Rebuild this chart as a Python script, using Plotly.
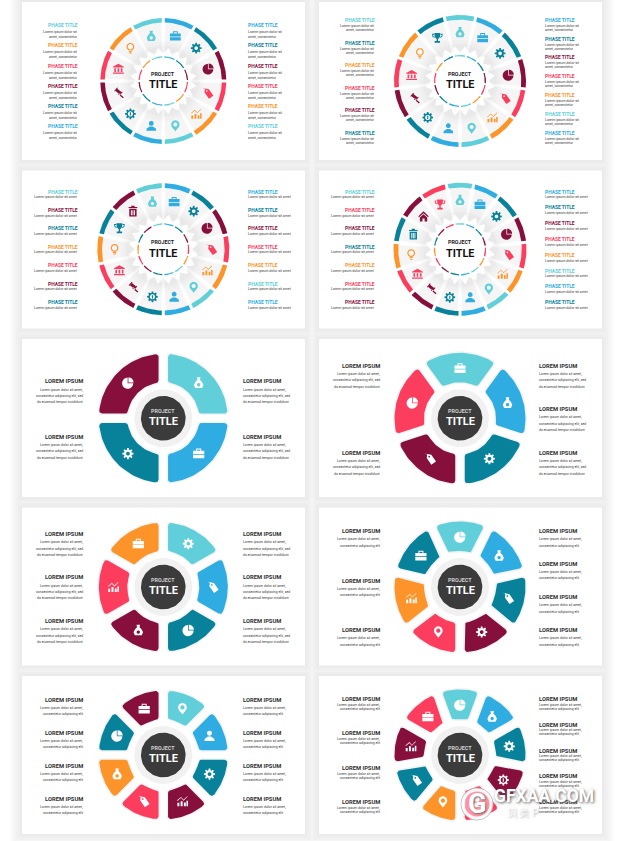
import math
import plotly.graph_objects as go

BLUE = '#2fade2'
TEAL = '#07829a'
MAROON = '#870f3c'
PINK = '#fd3d5e'
ORANGE = '#fd9429'
CYAN = '#60cfd9'

# segments run clockwise from the top of each wheel
colors_1 = [BLUE, TEAL, MAROON, PINK, ORANGE, CYAN, BLUE, TEAL, MAROON, PINK, ORANGE, CYAN]
colors_2 = [CYAN, BLUE, TEAL, MAROON, PINK, ORANGE, CYAN, BLUE, TEAL, MAROON, PINK, ORANGE, TEAL]
colors_3 = [BLUE, TEAL, MAROON, PINK, ORANGE, CYAN, BLUE, TEAL, MAROON, PINK, ORANGE, TEAL, MAROON, CYAN]
colors_4 = [CYAN, BLUE, TEAL, MAROON, PINK, ORANGE, CYAN, BLUE, TEAL, MAROON, PINK, ORANGE, TEAL, MAROON, PINK]
colors_5 = [CYAN, BLUE, TEAL, MAROON]
colors_6 = [CYAN, BLUE, TEAL, MAROON, PINK]
colors_7 = [CYAN, BLUE, TEAL, MAROON, PINK, ORANGE]
colors_8 = [CYAN, BLUE, TEAL, MAROON, PINK, ORANGE, TEAL]
colors_9 = [CYAN, BLUE, TEAL, MAROON, PINK, ORANGE, TEAL, MAROON]
colors_10 = [CYAN, BLUE, TEAL, MAROON, PINK, ORANGE, TEAL, MAROON, PINK]

icons_1 = ['case', 'gear', 'pie', 'tag', 'chart', 'pin', 'person', 'geardot', 'gavel', 'bank', 'bulb', 'bag']
icons_2 = ['bag', 'case', 'gear', 'pie', 'tag', 'chart', 'pin', 'person', 'geardot', 'gavel', 'bank', 'bulb', 'trophy']
icons_3 = ['case', 'gear', 'pie', 'tag', 'chart', 'pin', 'person', 'geardot', 'gavel', 'bank', 'bulb', 'trophy', 'trash', 'bag']
icons_4 = ['bag', 'case', 'gear', 'pie', 'tag', 'chart', 'pin', 'person', 'geardot', 'gavel', 'bank', 'bulb', 'trash', 'house', 'trophy']
icons_5 = ['bag', 'case', 'gear', 'pie']
icons_6 = ['case', 'bag', 'gear', 'tag', 'pie']
icons_7 = ['gear', 'tag', 'pie', 'bag', 'chart', 'case']
icons_8 = ['pie', 'bag', 'tag', 'gear', 'pin', 'chart', 'case']
icons_9 = ['pin', 'person', 'gear', 'chart', 'tag', 'bag', 'pie', 'case']
icons_10 = ['pie', 'bag', 'gear', 'geardot', 'person', 'pin', 'tag', 'chart', 'case']

phase_title = 'PHASE TITLE'
lorem_title = 'LOREM IPSUM'
body_phase_2 = ['Lorem ipsum dolor sit', 'amet, consectetur']
body_phase_1 = ['Lorem ipsum dolor sit amet']
body_lorem_3 = ['Lorem ipsum dolor sit amet,', 'consectetur adipiscing elit, sed', 'do eiusmod tempor incididunt']
body_lorem_2 = ['Lorem ipsum dolor sit amet,', 'consectetur adipiscing elit']

# cx, cy, radius, colors, icons, left text x, right text x, left rows, right rows, body, body line offsets
wheels_top = [
    (163.3, 81, 63, colors_1, icons_1, 78, 248,
     [25, 45, 65.5, 86, 106, 126], [25, 45, 65.5, 86, 106, 126], body_phase_2, [7, 12]),
    (460, 81, 66, colors_2, icons_2, 375, 545,
     [19.7, 42.7, 65.3, 87.7, 110.3, 133.3], [19.7, 38.7, 57.3, 76.3, 95.3, 114, 133.3], body_phase_2, [6, 10]),
    (163.3, 249.3, 66, colors_3, icons_3, 78, 248,
     [191.7, 210, 228.3, 246.7, 265, 283.7, 302.3], [191.7, 210, 228.3, 246.7, 265, 283.7, 302.3], body_phase_1, [5.5]),
    (460, 249.3, 66.5, colors_4, icons_4, 375, 545,
     [191.7, 210, 228.3, 246.7, 265, 283.7, 302.3], [191.7, 207.3, 223, 239, 255, 270.7, 286.3, 302.3], body_phase_1, [5.5]),
]
wheels_low = [
    (163.3, 418.3, 64.5, colors_5, icons_5, 83.3, 243,
     [381.3, 436.7], [381.3, 436.7], body_lorem_3, [8.3, 14.7, 21]),
    (460, 418.3, 65.5, colors_6, icons_6, 380.3, 539.3,
     [365.7, 452.7], [365.7, 409, 452.7], body_lorem_3, [8.3, 14.7, 21]),
    (163.3, 587, 64.5, colors_7, icons_7, 83.3, 243,
     [534, 577.3, 621], [534, 577.3, 621], body_lorem_3, [8.3, 14.7, 21]),
    (460, 587, 65.5, colors_8, icons_8, 380.3, 539.3,
     [531.3, 580.7, 630.3], [531.3, 564, 597.3, 630.3], body_lorem_2, [8, 14.3]),
    (163.3, 755, 64.5, colors_9, icons_9, 83.3, 243,
     [699.7, 732.7, 765.7, 798.7], [699.7, 732.7, 765.7, 798.7], body_lorem_2, [8, 14.5]),
    (460, 755, 65.5, colors_10, icons_10, 380.3, 539.3,
     [699.3, 733.3, 768, 802.3], [699.3, 724.7, 750.7, 776.3, 802.3], body_lorem_2, [5.5, 9.5]),
]

FONT = 'Roboto'
fig = go.Figure()


def polar(cx, cy, r, a):
    return cx + r * math.sin(math.radians(a)), cy - r * math.cos(math.radians(a))


def fill_poly(pts, color):
    fig.add_trace(go.Scatter(x=[p[0] for p in pts], y=[p[1] for p in pts], mode='lines', fill='toself',
                             fillcolor=color, line=dict(width=0), hoverinfo='skip', showlegend=False))


def sector(cx, cy, r0, r1, a0, a1, gap=0.0):
    # parallel sided gap between neighbours, given in pixels
    pts = []
    da = math.degrees(math.asin(gap / 2 / r1))
    for i in range(25):
        pts.append(polar(cx, cy, r1, a0 + da + (a1 - a0 - 2 * da) * i / 24))
    da = math.degrees(math.asin(gap / 2 / r0))
    for i in range(25):
        pts.append(polar(cx, cy, r0, a1 - da - (a1 - a0 - 2 * da) * i / 24))
    return pts


def sweep(cx, cy, c, d0, d1):
    return [polar(cx, cy, c, d0 + (d1 - d0) * i / 6) for i in range(7)]


def round_sector(cx, cy, r0, r1, a0, a1, gap, c):
    ro, ri = r1 - c, r0 + c
    do = math.degrees(math.asin((gap / 2 + c) / ro))
    di = math.degrees(math.asin((gap / 2 + c) / ri))
    a_ol, a_or, a_ir, a_il = a0 + do, a1 - do, a1 - di, a0 + di
    pts = sweep(*polar(cx, cy, ro, a_ol), c, a0 - 90, a_ol)
    pts += [polar(cx, cy, r1, a_ol + (a_or - a_ol) * i / 30) for i in range(31)]
    pts += sweep(*polar(cx, cy, ro, a_or), c, a_or, a1 + 90)
    pts += sweep(*polar(cx, cy, ri, a_ir), c, a1 + 90, a_ir + 180)
    pts += [polar(cx, cy, r0, a_ir + (a_il - a_ir) * i / 20) for i in range(21)]
    pts += sweep(*polar(cx, cy, ri, a_il), c, a_il + 180, a0 + 270)
    return pts


def star(cx, cy, r_tip, r_valley, n, start):
    return [polar(cx, cy, r_tip if i % 2 else r_valley, start + i * 180 / n) for i in range(2 * n)]


def label(x, y, s, size, color, anchor='center', bold=False, **font_extra):
    fig.add_annotation(x=x, y=y, text=f'<b>{s}</b>' if bold else s, showarrow=False, xanchor=anchor, yanchor='middle',
                       borderpad=0, borderwidth=0, font=dict(family=FONT, size=size, color=color, **font_extra))


# icons live in a -1..1 box, y pointing down; each entry is a list of sub paths
def disc(x, y, r, n=18):
    return [(x + r * math.cos(2 * math.pi * i / n), y + r * math.sin(2 * math.pi * i / n)) for i in range(n)]


def rect(x0, y0, x1, y1):
    return [(x0, y0), (x1, y0), (x1, y1), (x0, y1)]


def turned(pts, deg):
    c, s = math.cos(math.radians(deg)), math.sin(math.radians(deg))
    return [(x * c - y * s, x * s + y * c) for x, y in pts]


def gear_outline(r_out, r_in, teeth=8):
    pts = []
    for i in range(teeth):
        a = 2 * math.pi * i / teeth
        w = math.pi / teeth
        for da, r in ((-0.62 * w, r_in), (-0.38 * w, r_out), (0.38 * w, r_out), (0.62 * w, r_in)):
            pts.append((r * math.cos(a + da), r * math.sin(a + da)))
    return pts


def wedge(x, y, r, a0, a1):
    return [(x, y)] + [(x + r * math.cos(math.radians(a0 + (a1 - a0) * i / 14)),
                        y + r * math.sin(math.radians(a0 + (a1 - a0) * i / 14))) for i in range(15)]


ICONS = {
    'case': [rect(-1, -0.5, 1, 0.08), rect(-1, 0.2, 1, 0.82),
             [(-0.45, -0.5), (-0.45, -0.9), (0.45, -0.9), (0.45, -0.5), (0.28, -0.5), (0.28, -0.72), (-0.28, -0.72), (-0.28, -0.5)]],
    'bag': [[(-0.32, -1), (0.32, -1), (0.22, -0.55), (0.58, -0.2), (0.85, 0.35), (0.62, 0.9), (-0.62, 0.9), (-0.85, 0.35), (-0.58, -0.2), (-0.22, -0.55)],
            disc(0, 0.32, 0.3), ],
    'gear': [gear_outline(1, 0.72), disc(0, 0, 0.34)],
    'geardot': [gear_outline(1, 0.74), disc(0, 0, 0.48), rect(-0.1, -0.3, 0.1, 0.3)],
    'pie': [wedge(-0.05, 0.05, 1, 0, 270), wedge(0.08, -0.08, 0.92, -90, 0)],
    'tag': [turned([(0, -1.05), (0.5, -0.5), (0.5, 0.95), (-0.5, 0.95), (-0.5, -0.5)], -35),
            turned(disc(0, -0.45, 0.15), -35),
            [(-0.95, -0.95), (-0.45, -0.72), (-0.47, -0.67), (-0.97, -0.9)]],
    'chart': [rect(-0.9, 0.3, -0.55, 0.9), rect(-0.32, 0, 0.03, 0.9), rect(0.26, 0.25, 0.6, 0.9), rect(0.72, -0.1, 1, 0.9),
              [(-0.95, -0.15), (-0.25, -0.75), (0.2, -0.25), (0.85, -0.9), (0.92, -0.82), (0.2, -0.1), (-0.25, -0.6), (-0.88, -0.05)]],
    'pin': [[(0.78 * math.sin(math.radians(a)), -0.25 - 0.78 * math.cos(math.radians(a))) for a in range(-125, 126, 25)] + [(0, 1)],
            disc(0, -0.25, 0.38)],
    'person': [disc(0, -0.48, 0.45), [(-0.9, 0.9), (-0.85, 0.5), (-0.28, 0.12), (0.28, 0.12), (0.85, 0.5), (0.9, 0.9)]],
    'gavel': [turned(rect(-0.65, -0.5, 0.3, 0.05), 40), turned(rect(-0.2, 0.05, 0.05, 1.25), -50),
              turned(rect(-0.85, -0.65, -0.65, 0.2), 40), turned(rect(0.3, -0.65, 0.5, 0.2), 40)],
    'bank': [[(0, -0.95), (1, -0.4), (1, -0.25), (-1, -0.25), (-1, -0.4)], rect(-0.75, -0.12, -0.45, 0.55),
             rect(-0.15, -0.12, 0.15, 0.55), rect(0.45, -0.12, 0.75, 0.55), rect(-1, 0.67, 1, 0.9)],
    'bulb': [disc(0, -0.25, 0.72), disc(0, -0.25, 0.5), rect(-0.32, 0.52, 0.32, 0.68), rect(-0.22, 0.78, 0.22, 0.98)],
    'trophy': [[(-0.55, -0.9), (0.55, -0.9), (0.5, -0.2), (0.15, 0.2), (-0.15, 0.2), (-0.5, -0.2)],
               [(-0.6, -0.75), (-1, -0.75), (-0.9, -0.2), (-0.5, 0.02), (-0.52, -0.15), (-0.75, -0.3), (-0.82, -0.6), (-0.6, -0.6)],
               [(0.6, -0.75), (1, -0.75), (0.9, -0.2), (0.5, 0.02), (0.52, -0.15), (0.75, -0.3), (0.82, -0.6), (0.6, -0.6)],
               rect(-0.13, 0.2, 0.13, 0.6), rect(-0.5, 0.6, 0.5, 0.92)],
    'trash': [rect(-0.8, -0.78, 0.8, -0.58), rect(-0.3, -1, 0.3, -0.78), rect(-0.68, -0.45, 0.68, 1),
              rect(-0.38, -0.2, -0.2, 0.75), rect(-0.09, -0.2, 0.09, 0.75), rect(0.2, -0.2, 0.38, 0.75)],
    'house': [[(0, -0.95), (1, 0), (0.78, 0.1), (0, -0.6), (-0.78, 0.1), (-1, 0)],
              [(0, -0.42), (0.68, 0.18), (0.68, 0.92), (0.2, 0.92), (0.2, 0.38), (-0.2, 0.38), (-0.2, 0.92), (-0.68, 0.92), (-0.68, 0.18)]],
}


def add_icon(name, cx, cy, size, color):
    path = ''
    for sub in ICONS[name]:
        path += 'M ' + ' L '.join(f'{cx + x * size:.2f},{cy + y * size:.2f}' for x, y in sub) + ' Z '
    fig.add_shape(type='path', path=path, fillcolor=color, line=dict(width=0), xref='x', yref='y')


# paper panels with a soft shadow, solid greys so overlapping shadows do not add up
panel_xs = (22, 319)
panel_ys = (2, 170.5, 339, 507.5, 676)
for k, grey in ((12, '#fbfbfb'), (10, '#f8f8f8'), (8, '#f5f5f5'), (6, '#f1f1f1'), (4, '#eeeeee'), (2, '#ebebeb')):
    for x0 in panel_xs:
        for y0 in panel_ys:
            fig.add_shape(type='rect', x0=x0 - k, x1=x0 + 283 + k, y0=y0 - k, y1=y0 + 158 + k, layer='below',
                          fillcolor=grey, line=dict(width=0))
for x0 in panel_xs:
    for y0 in panel_ys:
        fig.add_shape(type='rect', x0=x0, x1=x0 + 283, y0=y0, y1=y0 + 158, layer='below',
                      fillcolor='white', line=dict(width=0))


def side_text(x, rows, colors, body, offsets, anchor, title, size, body_size):
    for y, color in zip(rows, colors):
        label(x, y, title, size, color, anchor, bold=True)
        for line, dy in zip(body, offsets):
            label(x, y + dy, line, body_size, '#3c3c3c', anchor)


for cx, cy, r, colors, icons, xl, xr, left, right, body, offsets in wheels_top:
    n = len(colors)
    step = 360 / n
    start = -step / 2 if n % 2 else 0
    k = r / 63
    for i in range(n):
        a0 = start + i * step
        fill_poly(sector(cx, cy, 26 * k, 59 * k, a0 + 2.2, a0 + step - 2.2), '#f5f5f6')
    # soft shade that falls off outward from the star
    for rad, alpha in ((42, 0.008), (39.5, 0.01), (37, 0.012), (35, 0.016)):
        fill_poly(disc(cx, cy, rad * k, 72), f'rgba(0,0,0,{alpha})')
    fill_poly(star(cx, cy, 33.5 * k, 27.5 * k, 20, 0), 'white')
    for i in range(n):
        a0 = start + i * step
        fill_poly(sector(cx, cy, 58.5 * k, 63 * k, a0, a0 + step, 3), colors[i])
        fill_poly(sector(cx, cy, 23.6 * k, 24.8 * k, a0, a0 + step, 2), colors[i])
        add_icon(icons[i], *polar(cx, cy, 46.5 * k, a0 + step / 2), 5.4, colors[i])
    label(cx, cy - 7, 'PROJECT', 5.3, '#222222', bold=True)
    label(cx, cy + 3.7, 'TITLE', 10.8, '#111111', bold=True)
    n_right = len(right)
    if n % 2:
        right_colors = colors[1:1 + n_right]
        left_colors = [colors[0]] + colors[1 + n_right:][::-1]
    else:
        right_colors = colors[:n_right]
        left_colors = colors[n_right:][::-1]
    side_text(xl, left, left_colors, body, offsets, 'right', phase_title, 4.9, 3.5)
    side_text(xr, right, right_colors, body, offsets, 'left', phase_title, 4.9, 3.5)

for cx, cy, r, colors, icons, xl, xr, left, right, body, offsets in wheels_low:
    n = len(colors)
    step = 360 / n
    start = -step / 2 if n % 2 else 0
    for i in range(n):
        a0 = start + i * step
        fill_poly(round_sector(cx, cy, 34.5, r + 1.5, a0, a0 + step, 6.5, 4), '#f1f3f4')
        fill_poly(round_sector(cx, cy, 36, r, a0, a0 + step, 9.5, 2.8), colors[i])
        add_icon(icons[i], *polar(cx, cy, 50, a0 + step / 2), 5.6, 'white')
    fill_poly(disc(cx, cy, 29, 72), '#f1f1f1')
    fill_poly(disc(cx, cy, 22.3, 72), '#3b3b3b')
    label(cx, cy - 7.3, 'PROJECT', 5.4, '#d0d0d0', bold=True)
    label(cx, cy + 3.6, 'TITLE', 11, 'white', bold=True)
    side_text(xl, left, ['#303030'] * len(left), body, offsets, 'right', lorem_title, 5.8, 3.45)
    side_text(xr, right, ['#303030'] * len(right), body, offsets, 'left', lorem_title, 5.8, 3.45)

# site watermark, bottom right
fig.add_shape(type='circle', x0=461, x1=493, y0=788, y1=820, xref='x', yref='y',
              fillcolor='rgba(255,255,255,0.45)', line=dict(color='#b9b2b4', width=1))
fig.add_shape(type='circle', x0=463, x1=491, y0=790, y1=818, xref='x', yref='y',
              fillcolor='rgba(0,0,0,0)', line=dict(color='rgba(255,255,255,0.9)', width=3))
label(477, 804, 'G', 27, 'white', bold=True, shadow='1px 1px 2px #6b6b6b')
label(544, 796, 'GFXAA.COM', 17.5, 'white', bold=True, shadow='1px 1px 3px #5a5a5a')
label(522, 812, '贝 类 P', 10, 'rgba(255,255,255,0.75)', shadow='1px 1px 2px #999999')

fig.update_layout(width=620, height=841, autosize=False, margin=dict(l=0, r=0, t=0, b=0),
                  paper_bgcolor='white', plot_bgcolor='rgba(0,0,0,0)', showlegend=False,
                  xaxis=dict(range=[0, 620], visible=False, fixedrange=True),
                  yaxis=dict(range=[841, 0], visible=False, fixedrange=True))
fig.write_html('out.html', config={'displayModeBar': False}, post_script="document.body.style.margin='0';")
